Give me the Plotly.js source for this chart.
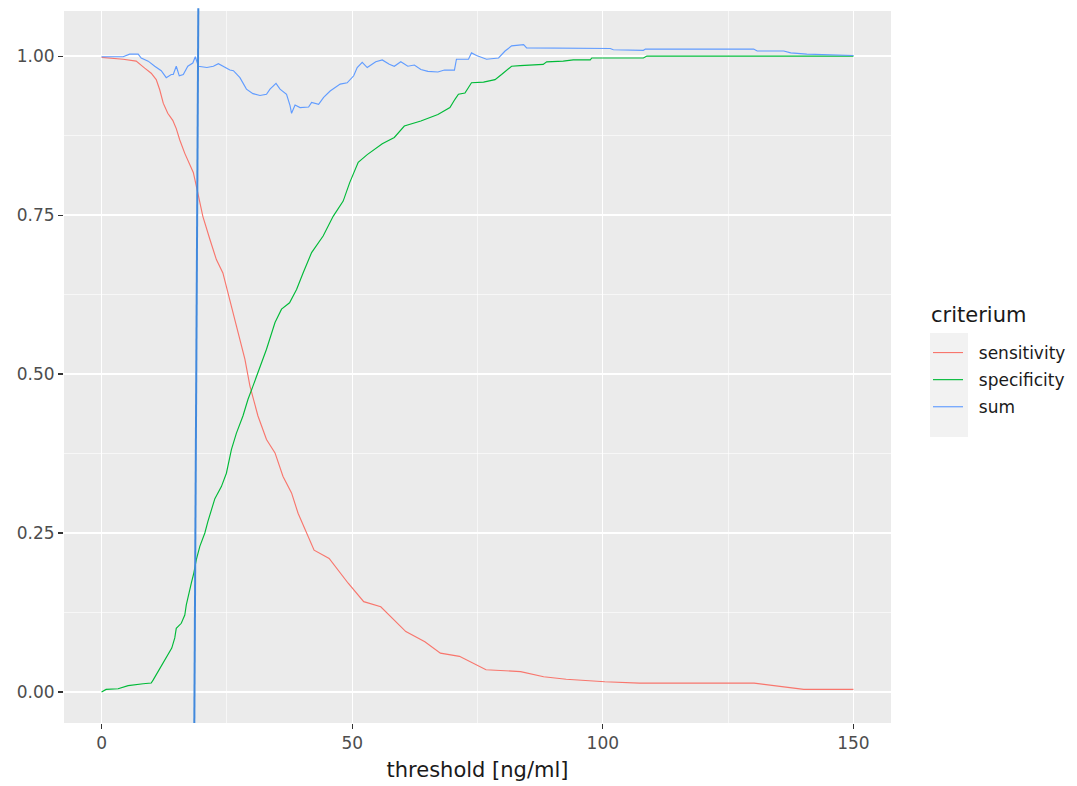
<!DOCTYPE html>
<html>
<head>
<meta charset="utf-8">
<script src="https://cdn.plot.ly/plotly-3.0.1.min.js"></script>
<style>
  html, body { margin: 0; padding: 0; background: #ffffff; }
  #chart { width: 1077px; height: 786px; }
</style>
</head>
<body>
<div id="chart"></div>
<script>
// Sensitivity and specificity of the marker across thresholds, plus their sum.
const sensitivityX = [0, 4.3, 6.9, 7.6, 8.6, 9.9, 10.9, 11.6, 12.3, 13.2, 14.2, 14.9, 15.6, 16.6, 17.2, 18.3,
  19.2, 20.2, 21.6, 22.9, 24.2, 25.2, 26.2, 27.6, 28.6, 29.6, 31.2, 32.9, 34.6, 36.2, 37.9, 39.2, 40.9,
  42.4, 45.4, 49.2, 52.3, 55.7, 60.7, 64.5, 67.6, 71.4, 76.7, 83.6, 88.2, 92.7, 100.4, 107.3, 130.2,
  135.5, 140.1, 150];
const sensitivityY = [0.998, 0.995, 0.992, 0.987, 0.981, 0.973, 0.963, 0.947, 0.926, 0.910, 0.899, 0.886,
  0.868, 0.847, 0.836, 0.817, 0.785, 0.748, 0.712, 0.680, 0.659, 0.628, 0.596, 0.554, 0.523, 0.481, 0.434,
  0.397, 0.376, 0.339, 0.313, 0.281, 0.250, 0.223, 0.210, 0.171, 0.142, 0.134, 0.095, 0.079, 0.061, 0.056,
  0.035, 0.032, 0.024, 0.020, 0.016, 0.014, 0.014, 0.009, 0.004, 0.004];

const specificityX = [0, 0.9, 3.3, 5.3, 8.3, 9.9, 10.3, 11.3, 12.3, 13.3, 14.0, 14.6, 14.9, 15.9, 16.6, 16.9,
  17.4, 17.9, 18.4, 18.9, 19.6, 20.6, 21.2, 21.9, 22.6, 23.9, 24.9, 25.9, 26.9, 28.2, 29.2, 30.2, 31.2, 32.9,
  34.6, 35.9, 37.5, 38.9, 40.2, 41.9, 44.2, 46.2, 48.2, 49.5, 51.2, 53, 56, 58.4, 60.4, 63.7, 67.1, 69.5,
  70.5, 71.2, 72.5, 73.8, 76.2, 78.5, 79.8, 81.8, 83.5, 88.1, 88.8, 92.1, 94.1, 97.5, 97.8, 108.1, 108.8, 150];
const specificityY = [0.000, 0.004, 0.005, 0.010, 0.013, 0.014, 0.019, 0.032, 0.045, 0.058, 0.069, 0.085,
  0.100, 0.108, 0.121, 0.137, 0.152, 0.171, 0.187, 0.208, 0.229, 0.250, 0.268, 0.286, 0.304, 0.323, 0.344,
  0.381, 0.407, 0.434, 0.460, 0.481, 0.502, 0.539, 0.581, 0.602, 0.612, 0.633, 0.659, 0.691, 0.717, 0.748,
  0.772, 0.801, 0.833, 0.845, 0.862, 0.872, 0.890, 0.898, 0.908, 0.919, 0.932, 0.940, 0.942, 0.958, 0.959,
  0.963, 0.971, 0.984, 0.985, 0.987, 0.991, 0.992, 0.994, 0.994, 0.997, 0.997, 1.000, 1.000];

const sumX = [0, 4.3, 5.6, 7.3, 7.9, 9.3, 10.6, 11.9, 12.9, 13.9, 14.3, 14.9, 15.5, 16.3, 17.2, 18.2, 18.7,
  19.3, 21.0, 22.3, 23.3, 24.6, 25.6, 26.3, 27.6, 28.9, 30.2, 31.6, 32.9, 33.6, 34.8, 35.6, 36.9, 37.6, 37.9,
  38.6, 39.6, 41.3, 41.9, 43.3, 44.3, 45.6, 47.6, 49.0, 50.3, 51.0, 52.0, 53.0, 54.7, 56.0, 57.4, 58.4, 59.7,
  61.1, 62.4, 63.7, 65.1, 67.1, 68.4, 70.4, 70.8, 73.2, 73.8, 74.8, 76.8, 79.2, 80.5, 81.8, 84.2, 84.8, 90.2,
  92.1, 101.5, 102.1, 108.1, 108.5, 130.1, 130.8, 136.1, 137.5, 140.7, 150];
const sumY = [0.999, 0.999, 1.003, 1.003, 0.997, 0.992, 0.984, 0.977, 0.966, 0.971, 0.971, 0.984, 0.969,
  0.971, 0.984, 0.989, 0.999, 0.984, 0.982, 0.984, 0.988, 0.982, 0.978, 0.977, 0.966, 0.948, 0.941, 0.938,
  0.940, 0.948, 0.957, 0.948, 0.940, 0.922, 0.910, 0.923, 0.919, 0.920, 0.927, 0.924, 0.935, 0.945, 0.956,
  0.958, 0.969, 0.982, 0.990, 0.982, 0.991, 0.994, 0.987, 0.984, 0.991, 0.984, 0.986, 0.979, 0.976, 0.975,
  0.978, 0.978, 0.995, 0.995, 1.005, 1.001, 0.995, 0.997, 1.008, 1.016, 1.018, 1.013, 1.013, 1.012, 1.012,
  1.010, 1.009, 1.011, 1.011, 1.008, 1.008, 1.005, 1.003, 1.001];

// Chosen cut-off, drawn as a near-vertical guide line.
const cutoffX = [18.5, 19.3];

const seriesNames = ['sensitivity', 'specificity', 'sum'];
const seriesColors = ['#F8766D', '#00BA38', '#619CFF'];
const legendTitle = 'criterium';
const xTicks = [0, 50, 100, 150];
const yTicks = [0, 0.25, 0.5, 0.75, 1];
const yTickText = ['0.00', '0.25', '0.50', '0.75', '1.00'];

const FONT = 'DejaVu Sans, Arial, sans-serif';

const xs = [sensitivityX, specificityX, sumX];
const ys = [sensitivityY, specificityY, sumY];
const traces = seriesNames.map((name, i) => ({
  type: 'scatter',
  mode: 'lines',
  // two no-break spaces keep the label clear of its key
  name: '\u00a0\u00a0' + name,
  legendgroup: name,
  x: xs[i],
  y: ys[i],
  line: { color: seriesColors[i], width: 1.15 },
  hoverinfo: 'skip'
}));

// Panel occupies pixels 64..891 horizontally and 11..723 vertically.
const panelL = 64, panelR = 891, panelT = 11, panelB = 723;
const pw = panelR - panelL, ph = panelB - panelT;
const px = v => (v - panelL) / pw;
const py = v => (panelB - v) / ph;

const layout = {
  width: 1077,
  height: 786,
  margin: { l: panelL, r: 1077 - panelR, t: panelT, b: 786 - panelB, pad: 0, autoexpand: false },
  paper_bgcolor: '#ffffff',
  plot_bgcolor: '#EBEBEB',
  font: { family: FONT, color: '#1A1A1A', size: 17 },
  showlegend: true,
  xaxis: {
    range: [-7.5, 157.5],
    tickvals: xTicks,
    ticktext: xTicks.map(String),
    showgrid: true,
    gridcolor: '#FFFFFF',
    gridwidth: 1.3,
    minor: { dtick: 25, tick0: 0, showgrid: true, gridcolor: '#FFFFFF', gridwidth: 0.6, ticks: '' },
    zeroline: false,
    showline: false,
    ticks: 'outside',
    ticklen: 5,
    tickwidth: 1.1,
    tickcolor: '#333333',
    tickfont: { family: FONT, size: 17, color: '#4D4D4D' },
    title: { text: 'threshold [ng/ml]', font: { family: FONT, size: 21, color: '#1A1A1A' }, standoff: 9 }
  },
  yaxis: {
    range: [-0.0488, 1.0709],
    tickvals: yTicks,
    ticktext: yTickText,
    showgrid: true,
    gridcolor: '#FFFFFF',
    gridwidth: 1.3,
    minor: { dtick: 0.125, tick0: 0, showgrid: true, gridcolor: '#FFFFFF', gridwidth: 0.6, ticks: '' },
    zeroline: false,
    showline: false,
    ticks: 'outside',
    ticklen: 5,
    tickwidth: 1.1,
    tickcolor: '#333333',
    tickfont: { family: FONT, size: 17, color: '#4D4D4D' }
  },
  legend: {
    x: px(928),
    xanchor: 'left',
    y: py(335),
    yanchor: 'top',
    bgcolor: 'rgba(0,0,0,0)',
    borderwidth: 0,
    traceorder: 'grouped',
    tracegroupgap: 2,
    font: { family: FONT, size: 17, color: '#1A1A1A' }
  },
  annotations: [
    {
      text: legendTitle, xref: 'paper', yref: 'paper',
      x: px(929), y: py(315), xanchor: 'left', yanchor: 'middle',
      showarrow: false, font: { family: FONT, size: 21, color: '#1A1A1A' }
    }
  ],
  shapes: [
    {
      type: 'rect', xref: 'paper', yref: 'paper', layer: 'below',
      x0: px(930), x1: px(968), y0: py(437), y1: py(333),
      fillcolor: '#F2F2F2', line: { width: 0 }
    },
    {
      type: 'line', xref: 'x', yref: 'paper', layer: 'above',
      x0: cutoffX[0], x1: cutoffX[1], y0: 0, y1: 1.004,
      line: { color: '#4189DD', width: 2 }
    }
  ],
  hovermode: false
};

Plotly.newPlot('chart', traces, layout, { displayModeBar: false, staticPlot: true });
</script>
</body>
</html>
